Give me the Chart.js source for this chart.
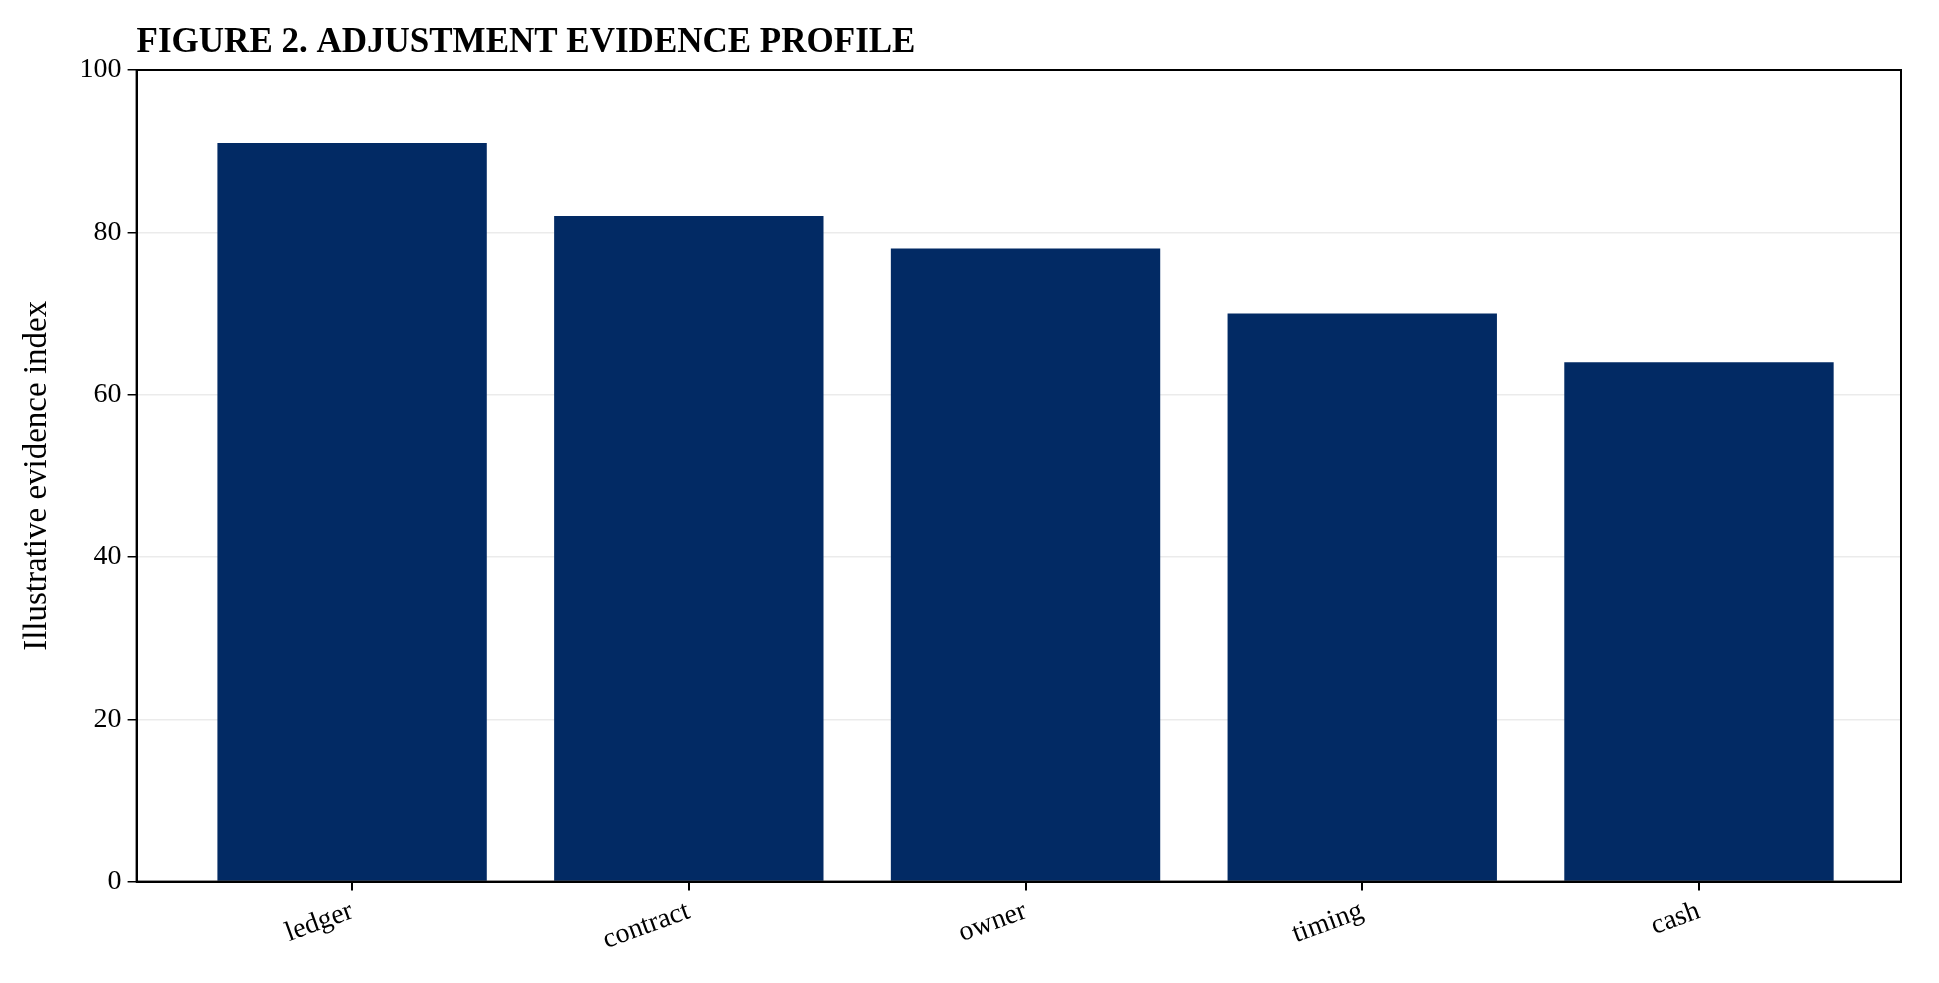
<!DOCTYPE html>
<html><head><meta charset="utf-8">
<script src="https://cdn.jsdelivr.net/npm/chart.js@4/dist/chart.umd.min.js"></script>
<style>html,body{margin:0;padding:0;background:#fff}#w{width:1939px;height:983px}</style>
</head><body><div id="w"><canvas id="c"></canvas></div>
<script>
const categories = ["ledger","contract","owner","timing","cash"];
const values = [91, 82, 78, 70, 64];
const yTicks = [0,20,40,60,80,100];
const titleText = 'FIGURE 2. ADJUSTMENT EVIDENCE PROFILE';

const frame = {id:'frame', afterDatasetsDraw(ch){
  const {ctx, chartArea:a} = ch; ctx.save(); ctx.strokeStyle='#000'; ctx.lineWidth=2;
  ctx.strokeRect(a.left, a.top, a.right-a.left, a.bottom-a.top);
  ctx.fillStyle='#000'; ctx.font='bold 35px "Liberation Serif"'; ctx.textBaseline='alphabetic';
  ctx.fillText(titleText, a.left, a.top-18);
  ctx.restore();
}};
new Chart(document.getElementById('c'), {
  type:'bar',
  data:{datasets:[{data: values.map((v,i)=>({x:i,y:v})), backgroundColor:'#022a64', barPercentage:0.8, categoryPercentage:1}]},
  options:{responsive:true, maintainAspectRatio:false, animation:false,
    layout:{padding:{left:14,right:38,top:70,bottom:22}},
    plugins:{legend:{display:false}, tooltip:{enabled:false}, title:{display:false}},
    scales:{
      x:{type:'linear', min:-0.64, max:4.6, offset:false,
        afterBuildTicks(s){ s.ticks = categories.map((c,i)=>({value:i})); },
        ticks:{callback:(v)=>categories[v], color:'#000', maxRotation:20, minRotation:20, font:{family:'Liberation Serif', size:28}, padding:4},
        grid:{offset:false, drawOnChartArea:false, tickColor:'#000', tickLength:9, lineWidth:2}, border:{color:'#000', width:2}},
      y:{min:0, max:100, afterBuildTicks(s){ s.ticks = yTicks.map(v=>({value:v})); },
        ticks:{color:'#000', font:{family:'Liberation Serif', size:28}, padding:6},
        title:{display:true, text:'Illustrative evidence index', color:'#000', font:{family:'Liberation Serif', size:33}, padding:{bottom:16}},
        grid:{color:'rgba(0,0,0,0.08)', tickColor:'#000', tickLength:9, lineWidth:1.5}, border:{color:'#000', width:2}}
    }},
  plugins:[frame]
});
</script></body></html>
